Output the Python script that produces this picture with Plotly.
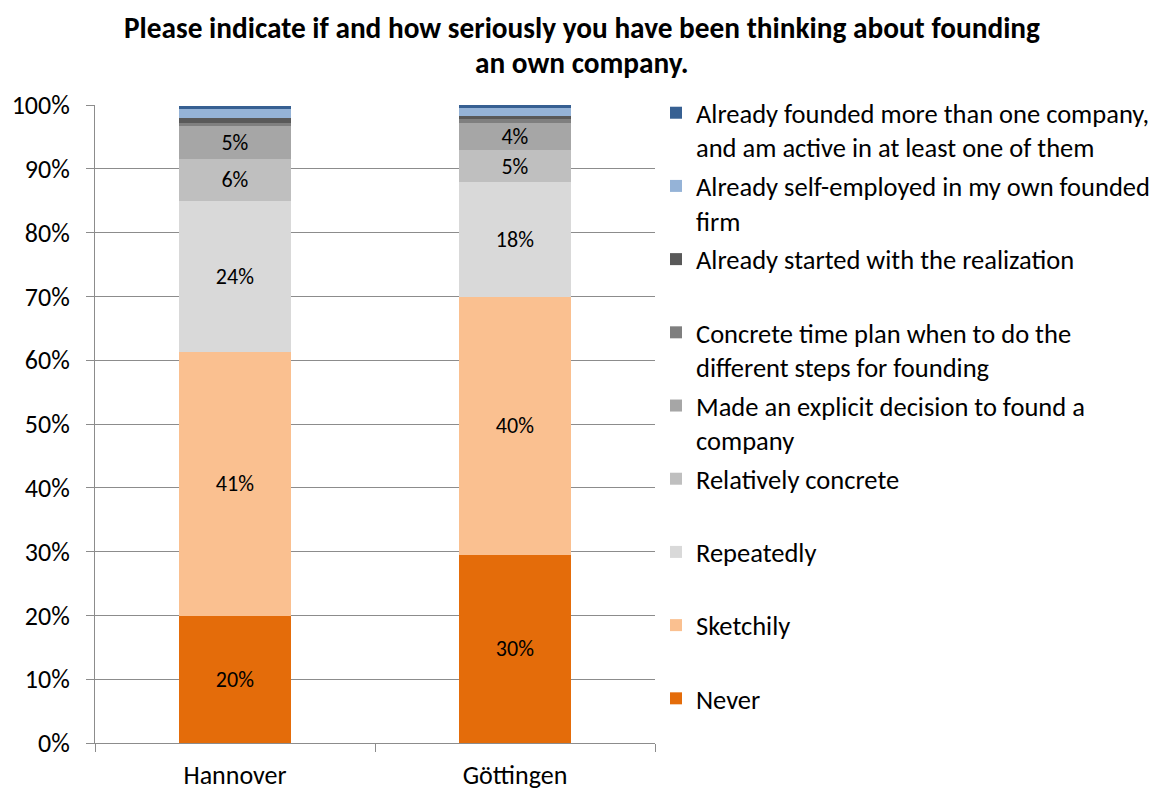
import plotly.graph_objects as go

cities = ["Hannover", "Göttingen"]

# share of respondents per answer (fractions), bottom to top of the stack
never = [0.199, 0.295]
sketchily = [0.414, 0.404]
repeatedly = [0.237, 0.180]
relatively_concrete = [0.065, 0.050]
explicit_decision = [0.052, 0.043]
time_plan = [0.005, 0.006]
started = [0.007, 0.005]
self_employed = [0.015, 0.012]
founded_several = [0.005, 0.005]

title_lines = [
    "Please indicate if and how seriously you have been thinking about founding",
    "an own company.",
]

# legend labels; every entry spans two lines so the legend rows are evenly spaced
series = [
    ("Never<br> ", never, "#E46C0A", True),
    ("Sketchily<br> ", sketchily, "#FAC090", True),
    ("Repeatedly<br> ", repeatedly, "#D9D9D9", True),
    ("Relatively concrete<br> ", relatively_concrete, "#BFBFBF", True),
    ("Made an explicit decision to found a<br>company", explicit_decision, "#A6A6A6", True),
    ("Concrete time plan when to do the<br>different steps for founding", time_plan, "#7F7F7F", False),
    ("Already started with the realization<br> ", started, "#595959", False),
    ("Already self-employed in my own founded<br>firm", self_employed, "#95B3D7", False),
    ("Already founded more than one company,<br>and am active in at least one of them", founded_several, "#376092", False),
]

FONT = "Carlito, Lato, Open Sans, sans-serif"

# plot area in pixels
PLOT_L, PLOT_R, PLOT_T, PLOT_B = 95, 655, 105, 743

fig = go.Figure()
for i, (name, vals, color, labelled) in enumerate(series):
    fig.add_trace(go.Bar(
        x=cities,
        y=vals,
        name=name,
        legendgroup=f"g{i}",
        legendrank=100 - i,
        marker=dict(color=color, line=dict(width=0)),
        width=0.4,
        text=[f"{v:.0%}" for v in vals] if labelled else None,
        textposition="inside" if labelled else "none",
        insidetextanchor="middle",
        constraintext="none",
        textangle=0,
        textfont=dict(family=FONT, size=22, color="#000000"),
        hoverinfo="skip",
    ))

# two-line bold heading, one annotation per line for tighter line spacing
title_annotations = [
    dict(
        text=f"<b>{line}</b>",
        xref="paper", yref="paper",
        x=(582 - PLOT_L) / (PLOT_R - PLOT_L),
        y=(PLOT_B - yc) / (PLOT_B - PLOT_T),
        xanchor="center", yanchor="middle",
        showarrow=False,
        font=dict(family=FONT, size=29.3, color="#000000"),
    )
    for line, yc in zip(title_lines, [28, 63])
]

fig.update_layout(
    barmode="stack",
    width=1160,
    height=790,
    paper_bgcolor="white",
    plot_bgcolor="white",
    margin=dict(l=PLOT_L, r=1160 - PLOT_R, t=PLOT_T, b=790 - PLOT_B),
    font=dict(family=FONT, size=24, color="#000000"),
    showlegend=True,
    legend=dict(
        xref="container", yref="container",
        x=656 / 1160, xanchor="left",
        y=1 - 89 / 790, yanchor="top",
        traceorder="grouped",
        tracegroupgap=1.3,
        font=dict(family=FONT, size=26.5, color="#000000"),
        valign="top",
        maxheight=720,
        bgcolor="rgba(0,0,0,0)",
    ),
    annotations=title_annotations,
)

fig.update_yaxes(
    range=[0, 1],
    tickvals=[i / 10 for i in range(11)],
    tickformat=".0%",
    showgrid=True,
    gridcolor="#8C8C8C",
    gridwidth=1,
    showline=True,
    linecolor="#8C8C8C",
    linewidth=1,
    ticks="outside",
    ticklen=8,
    tickcolor="#8C8C8C",
    tickfont=dict(family=FONT, size=26, color="#000000"),
    ticklabelstandoff=11,
    automargin=False,
    zeroline=False,
)
fig.update_xaxes(
    showline=True,
    linecolor="#8C8C8C",
    linewidth=1,
    ticks="outside",
    tickson="boundaries",
    ticklen=8,
    tickcolor="#8C8C8C",
    tickfont=dict(family=FONT, size=26, color="#000000"),
    ticklabelstandoff=9,
    automargin=False,
    showgrid=False,
)

fig.write_html("out.html")
